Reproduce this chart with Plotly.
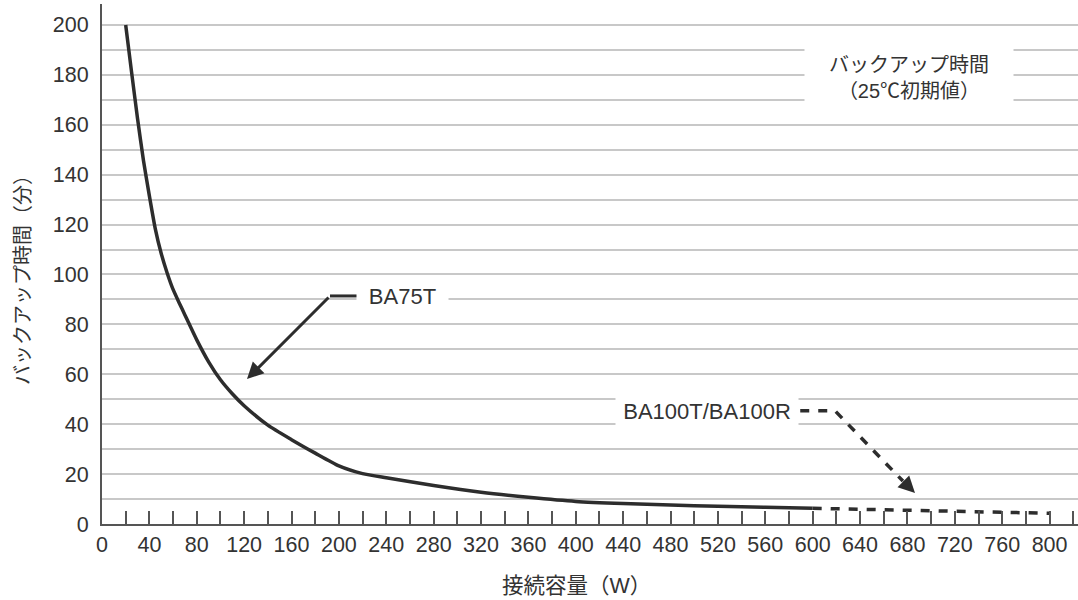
import plotly.graph_objects as go

# BA75T backup time curve (W, minutes)
ba75_x = [20, 25, 30, 35, 40, 45, 50, 55, 60, 65, 70, 80, 90, 100, 110, 120, 140, 160, 180, 200,
          220, 240, 280, 320, 360, 400, 440, 480, 520, 560, 600]
ba75_y = [200, 181, 162.5, 145.7, 131.5, 118.3, 108.4, 100.6, 94, 88.8, 83.8, 73.8, 65,
          57.8, 52.2, 47.4, 39.6, 33.8, 28.4, 23.3, 20.2, 18.5, 15.4, 12.7, 10.7, 9.05, 8.2,
          7.6, 7.1, 6.7, 6.3]

# BA100T/BA100R continuation (dashed)
ba100_x = [600, 650, 700, 750, 800]
ba100_y = [6.3, 5.8, 5.3, 4.8, 4.3]

x_tick_vals = list(range(0, 801, 40))
y_tick_vals = list(range(0, 201, 20))

FONT = "Liberation Sans, Noto Sans CJK JP, sans-serif"
TXT = "#333333"
INK = "#2d2d2d"

fig = go.Figure()

fig.add_trace(go.Scatter(x=ba75_x, y=ba75_y, mode="lines",
                         line=dict(color=INK, width=3.5, shape="spline", smoothing=0.6),
                         hoverinfo="skip", showlegend=False))
fig.add_trace(go.Scatter(x=ba100_x, y=ba100_y, mode="lines",
                         line=dict(color=INK, width=3.5, dash="9px,9px"),
                         hoverinfo="skip", showlegend=False))

# leader line for BA75T
fig.add_trace(go.Scatter(x=[192.5, 218], y=[91.4, 91.4], mode="lines",
                         line=dict(color=INK, width=3), hoverinfo="skip", showlegend=False))
# dashed leader for BA100T/BA100R
fig.add_trace(go.Scatter(x=[589.5, 618.8, 676.2], y=[45.4, 45.4, 17.2], mode="lines",
                         line=dict(color=INK, width=3.5, dash="9px,9px"),
                         hoverinfo="skip", showlegend=False))

annotations = [
    # BA75T arrow
    dict(x=122.4, y=58.1, ax=192.5, ay=91.4, xref="x", yref="y", axref="x", ayref="y",
         text="", showarrow=True, arrowhead=2, arrowsize=1.1, arrowwidth=3, arrowcolor=INK),
    # BA100 arrowhead
    dict(x=686.4, y=12.4, ax=-13, ay=-13, xref="x", yref="y",
         text="", showarrow=True, arrowhead=2, arrowsize=1.1, arrowwidth=3, arrowcolor=INK),
    dict(x=253.7, y=91, xref="x", yref="y", text="BA75T", showarrow=False,
         xanchor="center", yanchor="middle",
         bgcolor="white", width=85, borderpad=3, font=dict(size=22, color=TXT, family=FONT)),
    dict(x=510.8, y=44.9, xref="x", yref="y", text="BA100T/BA100R", showarrow=False,
         xanchor="center", yanchor="middle",
         bgcolor="white", width=178, borderpad=2, font=dict(size=22, color=TXT, family=FONT)),
    dict(x=681.3, y=179, xref="x", yref="y", text="バックアップ時間<br>（25℃初期値）",
         xanchor="center", yanchor="middle",
         showarrow=False, bgcolor="white", width=206, height=75,
         font=dict(size=20, color=TXT, family=FONT)),
    dict(x=-0.0809, y=0.4788, xref="paper", yref="paper", text="バックアップ時間（分）",
         xanchor="center", yanchor="middle",
         textangle=-90, showarrow=False, font=dict(size=20, color=TXT, family=FONT)),
    dict(x=0.4857, y=-0.119, xref="paper", yref="paper", text="接続容量（W）",
         xanchor="center", yanchor="middle",
         showarrow=False, font=dict(size=21.5, color=TXT, family=FONT)),
]

fig.update_layout(
    width=1078, height=600,
    margin=dict(l=102, r=0, t=4, b=76, autoexpand=False),
    paper_bgcolor="white", plot_bgcolor="white",
    font=dict(family=FONT, size=21, color=TXT),
    annotations=annotations,
    xaxis=dict(range=[0, 824], tickvals=x_tick_vals, ticks="inside", ticklen=13,
               tickwidth=1.5, tickcolor="#555555", showgrid=False, zeroline=False,
               showline=True, linecolor="#555555", linewidth=2, automargin=False,
               minor=dict(dtick=20, tick0=0, ticks="inside", ticklen=13, tickwidth=1.5,
                          tickcolor="#555555", showgrid=False),
               tickfont=dict(size=21.5, color=TXT, family=FONT)),
    xaxis2=dict(range=[0, 824], overlaying="x", anchor="y", side="bottom",
                tickvals=[100, 200, 300, 400, 500, 600, 700, 800], ticks="inside",
                ticklen=13, tickwidth=2.5, tickcolor="#555555", showticklabels=False,
                showgrid=False, zeroline=False, showline=False, automargin=False),
    yaxis=dict(range=[0, 208.4], tickvals=y_tick_vals, ticks="", showgrid=True,
               gridcolor="#c8c8c8", gridwidth=1.5, zeroline=False, automargin=False,
               showline=True, linecolor="#555555", linewidth=2, ticklabelstandoff=7,
               minor=dict(dtick=10, tick0=0, showgrid=True, gridcolor="#c8c8c8", gridwidth=1.5),
               tickfont=dict(size=21.5, color=TXT, family=FONT)),
)

fig.write_html("out.html", config={"displayModeBar": False},
               post_script="document.body.style.margin='0';document.body.style.overflow='hidden';")
